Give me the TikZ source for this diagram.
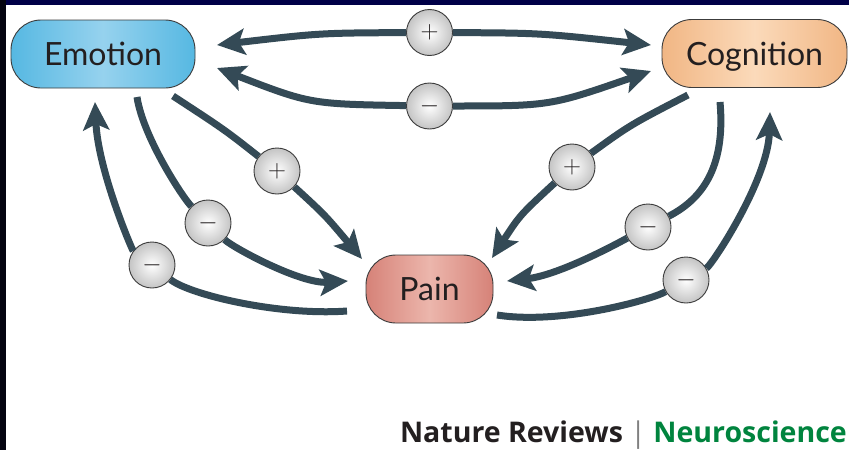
\documentclass[tikz,border=0pt]{standalone}
\usepackage{fontspec}
\setmainfont{Lato}
\newfontfamily\creditfont{Open Sans}
\usetikzlibrary{arrows.meta}
\definecolor{arrowcol}{RGB}{52,74,86}
\definecolor{edgecol}{RGB}{60,60,60}
\definecolor{emoout}{RGB}{86,184,226}
\definecolor{emoin}{RGB}{150,210,238}
\definecolor{cogout}{RGB}{241,182,132}
\definecolor{cogin}{RGB}{251,218,186}
\definecolor{painout}{RGB}{214,130,120}
\definecolor{painin}{RGB}{236,182,172}
\definecolor{sgnout}{RGB}{196,196,196}
\definecolor{natgray}{RGB}{35,31,32}
\definecolor{natgreen}{RGB}{0,132,62}
\definecolor{navyband}{RGB}{0,0,72}
\definecolor{blackband}{RGB}{4,4,16}

\begin{document}
\begin{tikzpicture}[x=1pt,y=1pt,yscale=-1,xscale=1,
  >={Stealth[length=28pt,width=26pt,inset=6pt]},
  box/.style={draw=edgecol,line width=0.9pt,rounded corners=30pt,minimum width=#1,minimum height=68pt,text height=23pt,text depth=0pt,font=\fontsize{32}{32}\selectfont,text=natgray},
  sgn/.style={circle,draw=edgecol,line width=0.9pt,inner color=white,outer color=sgnout,minimum size=46pt,inner sep=0pt,font=\fontsize{32}{32}\selectfont,text=natgray},
  conn/.style={draw=arrowcol,line width=7pt}]
\useasboundingbox (0,0) rectangle (849,450);
\fill[white] (0,0) rectangle (849,450);
\fill[navyband] (0,0) rectangle (849,5);
\fill[blackband] (0,0) rectangle (6,450);
\node[box=184pt,left color=emoout,right color=emoout,middle color=emoin] (emo) at (103,54) {Emotion};
\node[box=185pt,left color=cogout,right color=cogout,middle color=cogin] (cog) at (754.5,53.5) {Cognition};
\node[box=127pt,left color=painout,right color=painout,middle color=painin] (pain) at (429.5,289) {Pain};
\node[sgn] (sgA) at (429.5,32.5) {$+$};
\node[sgn] (sgB) at (429.5,106) {$-$};
\node[sgn] (sgC) at (277,171) {$+$};
\node[sgn] (sgD) at (208,223) {$-$};
\node[sgn] (sgE) at (152,265) {$-$};
\node[sgn] (sgF) at (572,167) {$+$};
\node[sgn] (sgG) at (648,227) {$-$};
\node[sgn] (sgH) at (686,280) {$-$};
\coordinate (aE1) at (217,45);
\coordinate (aE2) at (217,68);
\coordinate (aE3) at (173,96);
\coordinate (aE4) at (137,97);
\coordinate (aE5) at (95,102);
\coordinate (aC1) at (651,45);
\coordinate (aC2) at (651,71);
\coordinate (aC3) at (688,95);
\coordinate (aC4) at (720,102);
\coordinate (aC5) at (770,112);
\coordinate (aP1) at (362,259);
\coordinate (aP2) at (348,281);
\coordinate (aP3) at (347,311);
\coordinate (aP4) at (492,258);
\coordinate (aP5) at (507,281);
\coordinate (aP6) at (497,315);
\draw[conn,<-] (aE1) .. controls (320,33) .. (sgA);
\draw[conn,->] (sgA) .. controls (540,33) .. (aC1);
\draw[conn,<-] (aE2) .. controls (310,104) .. (sgB);
\draw[conn,->] (sgB) .. controls (550,106) .. (aC2);
\draw[conn] (aE3) .. controls (225,130) .. (sgC);
\draw[conn,->] (sgC) .. controls (325,215) .. (aP1);
\draw[conn] (aE4) .. controls (143,137) and (183,198) .. (sgD);
\draw[conn,->] (sgD) .. controls (232,247) and (300,284) .. (aP2);
\draw[conn] (aP3) .. controls (280,316) and (190,295) .. (sgE);
\draw[conn,->] (sgE) .. controls (132,250) and (98,170) .. (aE5);
\draw[conn] (aC3) .. controls (630,125) .. (sgF);
\draw[conn,->] (sgF) .. controls (520,215) .. (aP4);
\draw[conn] (aC4) .. controls (726,170) and (700,200) .. (sgG);
\draw[conn,->] (sgG) .. controls (620,242) and (560,275) .. (aP5);
\draw[conn] (aP6) .. controls (560,325) and (651,300) .. (sgH);
\draw[conn,->] (sgH) .. controls (712,265) and (768,180) .. (aC5);
\node[anchor=base east,inner sep=0pt,font=\creditfont\fontsize{28.5}{28.5}\selectfont\bfseries] (credit) at (847,442) {\textcolor{natgray}{Nature Reviews} \textcolor{gray}{\mdseries|} \textcolor{natgreen}{Neuroscience}};
\end{tikzpicture}
\end{document}
